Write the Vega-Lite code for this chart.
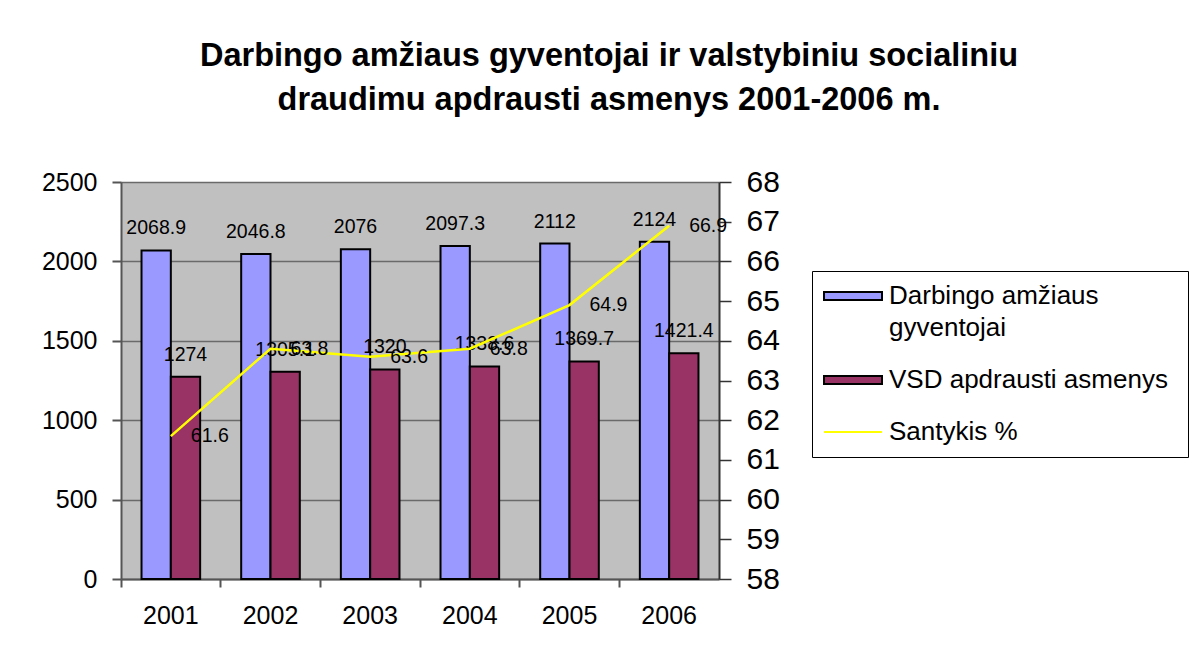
{
  "$schema": "https://vega.github.io/schema/vega-lite/v6.json",
  "width": 598,
  "height": 397,
  "autosize": {"type": "none"},
  "padding": {"left": 121, "top": 182, "right": 480, "bottom": 75},
  "background": "white",
  "config": {
    "font": "Liberation Sans",
    "view": {"fill": "#c0c0c0", "stroke": null}
  },
  "title": {
    "text": ["Darbingo amžiaus gyventojai ir valstybiniu socialiniu", "draudimu apdrausti asmenys 2001-2006 m."],
    "font": "Liberation Sans",
    "fontSize": 32.5,
    "fontWeight": "bold",
    "color": "black",
    "lineHeight": 44,
    "anchor": "middle",
    "frame": "group",
    "dx": 189,
    "offset": 51
  },
  "data": {
    "values": [
      {"year": "2001", "series": "Darbingo amžiaus gyventojai", "value": 2068.9},
      {"year": "2002", "series": "Darbingo amžiaus gyventojai", "value": 2046.8},
      {"year": "2003", "series": "Darbingo amžiaus gyventojai", "value": 2076},
      {"year": "2004", "series": "Darbingo amžiaus gyventojai", "value": 2097.3},
      {"year": "2005", "series": "Darbingo amžiaus gyventojai", "value": 2112},
      {"year": "2006", "series": "Darbingo amžiaus gyventojai", "value": 2124},
      {"year": "2001", "series": "VSD  apdrausti asmenys", "value": 1274},
      {"year": "2002", "series": "VSD  apdrausti asmenys", "value": 1305.1},
      {"year": "2003", "series": "VSD  apdrausti asmenys", "value": 1320},
      {"year": "2004", "series": "VSD  apdrausti asmenys", "value": 1338.6},
      {"year": "2005", "series": "VSD  apdrausti asmenys", "value": 1369.7},
      {"year": "2006", "series": "VSD  apdrausti asmenys", "value": 1421.4},
      {"year": "2001", "series": "Santykis %", "value": 61.6},
      {"year": "2002", "series": "Santykis %", "value": 63.8},
      {"year": "2003", "series": "Santykis %", "value": 63.6},
      {"year": "2004", "series": "Santykis %", "value": 63.8},
      {"year": "2005", "series": "Santykis %", "value": 64.9},
      {"year": "2006", "series": "Santykis %", "value": 66.9}
    ]
  },
  "layer": [
    {
      "transform": [{"filter": "datum.series !== 'Santykis %'"}],
      "encoding": {
        "x": {
          "field": "year", "type": "nominal",
          "scale": {"paddingInner": 0, "paddingOuter": 0},
          "axis": {
            "orient": "bottom", "title": null, "labels": false, "ticks": true,
            "bandPosition": 0, "tickSize": 8, "tickWidth": 2, "tickColor": "#555555",
            "domain": true, "domainColor": "#555555", "domainWidth": 2, "grid": false
          }
        },
        "y": {
          "field": "value", "type": "quantitative",
          "scale": {"domain": [0, 2500], "nice": false, "zero": true},
          "axis": {
            "orient": "left", "title": null, "values": [0, 500, 1000, 1500, 2000, 2500], "format": "d",
            "grid": true, "gridColor": "#6a6a6a", "gridWidth": 1.5,
            "domainColor": "#555555", "domainWidth": 2,
            "tickColor": "#555555", "tickWidth": 2, "tickSize": 9,
            "labelFontSize": 25, "labelColor": "black", "labelPadding": 15, "labelFont": "Liberation Sans"
          }
        }
      },
      "layer": [
        {
          "mark": {"type": "bar", "stroke": "black", "strokeWidth": 2},
          "encoding": {
            "xOffset": {
              "field": "series", "type": "nominal",
              "scale": {"domain": ["Darbingo amžiaus gyventojai", "VSD  apdrausti asmenys"], "paddingInner": 0, "paddingOuter": 0.7}
            },
            "color": {
              "field": "series", "type": "nominal",
              "scale": {
                "domain": ["Darbingo amžiaus gyventojai", "VSD  apdrausti asmenys", "Santykis %"],
                "range": ["#9999ff", "#993366", "#ffff00"]
              },
              "legend": {
                "orient": "none", "legendX": 691, "legendY": 89,
                "title": null,
                "labelFont": "Liberation Sans", "labelFontSize": 26, "labelColor": "black",
                "labelLimit": 500, "labelOffset": 23,
                "symbolType": "M-2.9,-0.4H2.9V0.4H-2.9Z",
                "symbolSize": 400, "symbolStrokeWidth": 2, "symbolStrokeColor": "black",
                "symbolOffset": 16,
                "padding": 12, "rowPadding": 26,
                "strokeColor": "black", "fillColor": "white",
                "labelExpr": "datum.label === 'Darbingo amžiaus gyventojai' ? ['Darbingo amžiaus', 'gyventojai'] : datum.label",
                "encoding": {
                  "symbols": {
                    "shape": {"value": {"expr": "datum.value === 'Santykis %' ? 'M-2.9,0H2.9' : 'M-2.9,-0.4H2.9V0.4H-2.9Z'"}},
                    "stroke": {"value": {"expr": "datum.value === 'Santykis %' ? '#ffff00' : 'black'"}}
                  },
                  "labels": {
                    "lineHeight": {"value": 32}
                  }
                }
              }
            }
          }
        },
        {
          "mark": {"type": "text", "baseline": "middle", "dy": -22, "fontSize": 19.5, "color": "black", "font": "Liberation Sans"},
          "encoding": {
            "xOffset": {
              "field": "series", "type": "nominal",
              "scale": {"domain": ["Darbingo amžiaus gyventojai", "VSD  apdrausti asmenys"], "paddingInner": 0, "paddingOuter": 0.7}
            },
            "text": {"field": "value", "type": "quantitative", "format": ""}
          }
        }
      ]
    },
    {
      "transform": [{"filter": "datum.series === 'Santykis %'"}],
      "encoding": {
        "x": {
          "field": "year", "type": "nominal",
          "scale": {"paddingInner": 0, "paddingOuter": 0},
          "axis": {
            "orient": "bottom", "title": null, "labels": true, "ticks": false, "tickSize": 0,
            "domain": false, "grid": false, "labelAngle": 0,
            "labelFontSize": 25, "labelColor": "black", "labelPadding": 24, "labelFont": "Liberation Sans"
          }
        },
        "y": {
          "field": "value", "type": "quantitative",
          "scale": {"domain": [58, 68], "nice": false, "zero": false},
          "axis": {
            "orient": "right", "title": null, "values": [58, 59, 60, 61, 62, 63, 64, 65, 66, 67, 68],
            "grid": false,
            "domainColor": "#333333", "domainWidth": 2,
            "tickColor": "#333333", "tickWidth": 1.5, "tickSize": 12,
            "labelFontSize": 30, "labelColor": "black", "labelPadding": 15, "labelFont": "Liberation Sans"
          }
        }
      },
      "layer": [
        {
          "mark": {"type": "line", "strokeWidth": 2.5, "color": "#ffff00"},
          "encoding": {}
        },
        {
          "mark": {"type": "text", "align": "left", "baseline": "middle", "dx": 20, "fontSize": 19.5, "color": "black", "font": "Liberation Sans"},
          "encoding": {
            "text": {"field": "value", "type": "quantitative", "format": ""}
          }
        }
      ]
    }
  ],
  "resolve": {"scale": {"y": "independent"}, "axis": {"x": "independent"}}
}
